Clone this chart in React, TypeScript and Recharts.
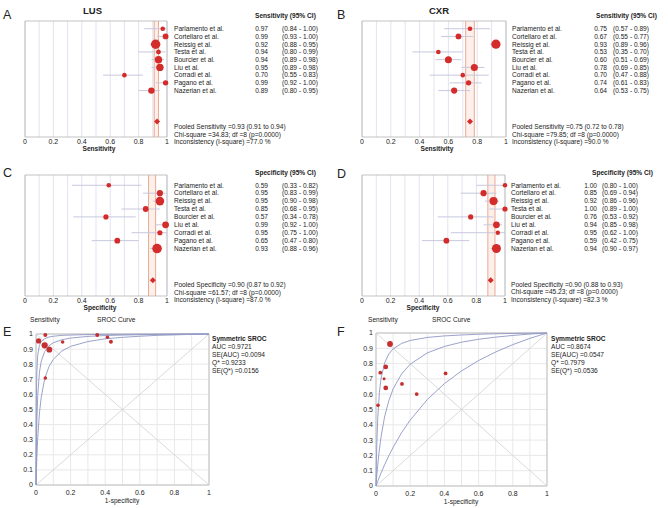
import React from "react";
import {
  ScatterChart,
  Scatter,
  XAxis,
  YAxis,
  CartesianGrid,
  ReferenceArea,
  ReferenceLine,
  ErrorBar,
} from "recharts";

const studies = [
  "Parlamento et al.",
  "Cortellaro et al.",
  "Reissig et al.",
  "Testa et al.",
  "Bourcier et al.",
  "Liu et al.",
  "Corradi et al.",
  "Pagano et al.",
  "Nazerian et al.",
];

// A: LUS sensitivity
const lusSens = [0.97, 0.99, 0.92, 0.94, 0.94, 0.95, 0.7, 0.99, 0.89];
const lusSensLo = [0.84, 0.93, 0.88, 0.8, 0.89, 0.89, 0.55, 0.92, 0.8];
const lusSensHi = [1.0, 1.0, 0.95, 0.99, 0.98, 0.98, 0.83, 1.0, 0.95];
const lusSensW = [2.3, 2.9, 4.7, 2.4, 3.7, 3.7, 2.3, 2.7, 3.2];
const lusSensPooled = [0.93, 0.91, 0.94];

// B: CXR sensitivity
const cxrSens = [0.75, 0.67, 0.93, 0.53, 0.6, 0.78, 0.7, 0.74, 0.64];
const cxrSensLo = [0.57, 0.55, 0.89, 0.35, 0.51, 0.69, 0.47, 0.61, 0.53];
const cxrSensHi = [0.89, 0.77, 0.96, 0.7, 0.69, 0.85, 0.88, 0.83, 0.75];
const cxrSensW = [2.3, 2.9, 4.6, 2.3, 3.5, 3.5, 2.3, 2.7, 3.1];
const cxrSensPooled = [0.75, 0.72, 0.78];

// C: LUS specificity
const lusSpec = [0.59, 0.95, 0.95, 0.85, 0.57, 0.99, 0.95, 0.65, 0.93];
const lusSpecLo = [0.33, 0.83, 0.9, 0.68, 0.34, 0.92, 0.75, 0.47, 0.88];
const lusSpecHi = [0.82, 0.99, 0.98, 0.95, 0.78, 1.0, 1.0, 0.8, 0.96];
const lusSpecW = [2.3, 3.1, 4.3, 2.9, 2.6, 3.4, 2.6, 2.9, 4.8];
const lusSpecPooled = [0.9, 0.87, 0.92];

// D: CXR specificity
const cxrSpec = [1.0, 0.85, 0.92, 1.0, 0.76, 0.94, 0.95, 0.59, 0.94];
const cxrSpecLo = [0.8, 0.69, 0.86, 0.89, 0.53, 0.85, 0.62, 0.42, 0.9];
const cxrSpecHi = [1.0, 0.94, 0.96, 1.0, 0.92, 0.98, 1.0, 0.75, 0.97];
const cxrSpecW = [2.3, 3.1, 4.1, 2.6, 2.6, 3.4, 2.2, 2.9, 4.5];
const cxrSpecPooled = [0.9, 0.88, 0.93];

// E / F: SROC study points (1-specificity, sensitivity) and weights
const lusFpr = [0.413, 0.054, 0.05, 0.154, 0.433, 0.015, 0.054, 0.354, 0.077];
const lusTpr = [0.978, 0.993, 0.925, 0.947, 0.949, 0.954, 0.709, 0.993, 0.896];
const lusPtW = [1.8, 2.0, 3.1, 1.8, 2.0, 2.6, 1.8, 2.0, 2.9];
const cxrFpr = [0.025, 0.152, 0.082, 0.012, 0.238, 0.057, 0.047, 0.407, 0.057];
const cxrTpr = [0.741, 0.667, 0.928, 0.527, 0.601, 0.778, 0.701, 0.736, 0.641];
const cxrPtW = [1.9, 1.9, 2.9, 1.8, 1.9, 2.4, 1.5, 1.9, 2.4];

// SROC curves
const curveFpr = [0, 0.001, 0.002, 0.003, 0.005, 0.01, 0.02, 0.03, 0.05, 0.075, 0.1, 0.15, 0.2, 0.3, 0.4, 0.5, 0.6, 0.7, 0.8, 0.9, 1];
const lusCurveMid = [0, 0.127, 0.225, 0.304, 0.422, 0.594, 0.747, 0.818, 0.884, 0.922, 0.942, 0.962, 0.973, 0.984, 0.99, 0.993, 0.995, 0.997, 0.998, 0.999, 1];
const lusCurveLow = [0, 0.043, 0.082, 0.119, 0.184, 0.311, 0.477, 0.58, 0.702, 0.784, 0.832, 0.888, 0.918, 0.95, 0.968, 0.978, 0.985, 0.991, 0.994, 0.998, 1];
const lusCurveHigh = [0, 0.376, 0.547, 0.644, 0.752, 0.859, 0.925, 0.949, 0.969, 0.98, 0.985, 0.991, 0.993, 0.996, 0.998, 0.998, 0.999, 0.999, 1, 1, 1];
const cxrCurveMid = [0, 0.015, 0.03, 0.045, 0.073, 0.136, 0.241, 0.325, 0.451, 0.558, 0.634, 0.733, 0.796, 0.87, 0.912, 0.94, 0.959, 0.973, 0.984, 0.993, 1];
const cxrCurveHigh = [0, 0.072, 0.135, 0.189, 0.28, 0.439, 0.613, 0.706, 0.803, 0.863, 0.896, 0.932, 0.951, 0.971, 0.981, 0.987, 0.992, 0.995, 0.997, 0.999, 1];
const cxrCurveLow = [0, 0.003, 0.006, 0.009, 0.015, 0.03, 0.058, 0.086, 0.138, 0.198, 0.252, 0.349, 0.431, 0.565, 0.669, 0.752, 0.82, 0.876, 0.924, 0.965, 1];

const xTicks = [0, 0.1, 0.2, 0.3, 0.4, 0.5, 0.6, 0.7, 0.8, 0.9, 1];
const rowTicks = [1, 2, 3, 4, 5, 6, 7, 8, 9];

const FONT = "'Liberation Sans', Arial, Helvetica, sans-serif";
const INK = "#222";
const DOT = "#d42b2b";

const evenOnly = (v: number) => {
  const k = Math.round(v * 10);
  if (k % 2) return "";
  return k === 0 ? "0" : k === 10 ? "1" : String(v);
};
const allTicks = (v: number) => (v === 0 ? "0" : v === 1 ? "1" : String(v));

type ForestProps = {
  left: number;
  top: number;
  plotL: number;
  plotR: number;
  plotT: number;
  plotB: number;
  domain: [number, number];
  est: number[];
  lo: number[];
  hi: number[];
  w: number[];
  pooled: number[];
  cols: number[];
};

function Forest(p: ForestProps) {
  const W = 334;
  const H = 160;
  const rows = p.est.map((v, i) => ({
    x: v,
    y: i + 1,
    err: [v - p.lo[i], p.hi[i] - v],
    r: p.w[i],
  }));
  const pool = [{ x: p.pooled[0], y: 13 }];

  const tick = (t: any) => {
    const i = t.payload.value - 1;
    return (
      <g fontSize={6.6} fill={INK}>
        <text x={p.cols[0]} y={t.y} dy={2.3}>
          {studies[i]}
        </text>
        <text x={p.cols[1]} y={t.y} dy={2.3} textAnchor="end">
          {p.est[i].toFixed(2)}
        </text>
        <text x={p.cols[2]} y={t.y} dy={2.3}>
          ({p.lo[i].toFixed(2)} - {p.hi[i].toFixed(2)})
        </text>
      </g>
    );
  };

  return (
    <div style={{ position: "absolute", left: p.left, top: p.top }}>
      <ScatterChart
        width={W}
        height={H}
        margin={{ top: p.plotT, left: p.plotL, right: 0, bottom: 0 }}
      >
        <CartesianGrid horizontal={false} stroke="#e3e4ee" />
        <XAxis
          type="number"
          dataKey="x"
          domain={[0, 1]}
          ticks={xTicks}
          interval={0}
          tickFormatter={evenOnly}
          axisLine={false}
          tickLine={false}
          tickSize={0}
          tickMargin={1.8}
          height={H - p.plotB}
          tick={{ fontSize: 7, fill: INK }}
        />
        <YAxis
          type="number"
          dataKey="y"
          orientation="right"
          domain={p.domain}
          reversed
          allowDataOverflow
          ticks={rowTicks}
          interval={0}
          width={W - p.plotR}
          axisLine={false}
          tickLine={false}
          tick={tick}
        />
        <ReferenceArea x1={p.pooled[1]} x2={p.pooled[2]} y1={p.domain[0]} y2={p.domain[1]} fill="#fdf0ea" fillOpacity={1} stroke="none" />
        <ReferenceLine x={p.pooled[1]} stroke="#e6957c" strokeWidth={0.8} />
        <ReferenceLine x={p.pooled[2]} stroke="#e6957c" strokeWidth={0.8} />
        <ReferenceArea x1={0} x2={1} y1={p.domain[0]} y2={p.domain[1]} fill="none" stroke="#b4b4b4" strokeWidth={0.8} />
        <Scatter
          data={rows}
          isAnimationActive={false}
          shape={(s: any) => <circle cx={s.cx} cy={s.cy} r={s.payload.r} fill={DOT} />}
        >
          <ErrorBar dataKey="err" direction="x" width={0} stroke="#c6c8de" strokeWidth={1} />
        </Scatter>
        <Scatter
          data={pool}
          isAnimationActive={false}
          shape={(s: any) => (
            <polygon
              points={`${s.cx - 3},${s.cy} ${s.cx},${s.cy - 3} ${s.cx + 3},${s.cy} ${s.cx},${s.cy + 3}`}
              fill={DOT}
            />
          )}
        />
      </ScatterChart>
    </div>
  );
}

type SrocProps = {
  left: number;
  plotL: number;
  plotR: number;
  plotT: number;
  plotB: number;
  fpr: number[];
  tpr: number[];
  w: number[];
  curves: number[][];
};

function Sroc(p: SrocProps) {
  const W = 334;
  const H = 188;
  const pts = p.fpr.map((f, i) => ({ x: f, y: p.tpr[i], r: p.w[i] }));
  return (
    <div style={{ position: "absolute", left: p.left, top: 320 }}>
      <ScatterChart
        width={W}
        height={H}
        margin={{ top: p.plotT, left: 0, right: W - p.plotR, bottom: 0 }}
      >
        <CartesianGrid stroke="#e8e8e8" />
        <XAxis
          type="number"
          dataKey="x"
          domain={[0, 1]}
          ticks={xTicks}
          interval={0}
          tickFormatter={evenOnly}
          axisLine={false}
          tickLine={false}
          tickSize={0}
          tickMargin={5}
          height={H - p.plotB}
          tick={{ fontSize: 7, fill: INK }}
        />
        <YAxis
          type="number"
          dataKey="y"
          domain={[0, 1]}
          ticks={xTicks}
          interval={0}
          tickFormatter={allTicks}
          axisLine={false}
          tickLine={false}
          tickSize={0}
          tickMargin={3}
          width={p.plotL}
          tick={{ fontSize: 7, fill: INK }}
        />
        <ReferenceLine segment={[{ x: 0, y: 0 }, { x: 1, y: 1 }]} stroke="#d0d0d0" strokeWidth={0.8} />
        <ReferenceLine segment={[{ x: 0, y: 1 }, { x: 1, y: 0 }]} stroke="#d0d0d0" strokeWidth={0.8} />
        <ReferenceArea x1={0} x2={1} y1={0} y2={1} fill="none" stroke="#b4b4b4" strokeWidth={0.8} />
        {p.curves.map((c, k) => (
          <Scatter
            key={k}
            data={curveFpr.map((f, i) => ({ x: f, y: c[i] }))}
            isAnimationActive={false}
            line={{ stroke: "#9097c4", strokeWidth: 0.9 }}
            lineType="joint"
            shape={() => <g />}
          />
        ))}
        <Scatter
          data={pts}
          isAnimationActive={false}
          shape={(s: any) => <circle cx={s.cx} cy={s.cy} r={s.payload.r} fill="#c42f2f" />}
        />
      </ScatterChart>
    </div>
  );
}

type T = { x: number; y: number; s: string; size?: number; bold?: boolean; anchor?: "start" | "middle" | "end" };

function pooledLines(x: number, y: number, what: string, pooled: number[], chi: string, isq: string): T[] {
  return [
    { x, y, s: `Pooled ${what} =${pooled[0].toFixed(2)} (${pooled[1].toFixed(2)} to ${pooled[2].toFixed(2)})` },
    { x, y: y + 7.5, s: `Chi-square =${chi}; df =8 (p=0.0000)` },
    { x, y: y + 15, s: `Inconsistency (I-square) =${isq} %` },
  ];
}

function srocLines(x: number, auc: string, seAuc: string, q: string, seQ: string): T[] {
  return [
    { x, y: 340.5, s: "Symmetric SROC", bold: true },
    { x, y: 348.5, s: `AUC =${auc}` },
    { x, y: 356.5, s: `SE(AUC) =${seAuc}` },
    { x, y: 364.5, s: `Q* =${q}` },
    { x, y: 372.5, s: `SE(Q*) =${seQ}` },
  ];
}

const labels: T[] = [
  { x: 3, y: 18.5, s: "A", size: 12.5 },
  { x: 83, y: 14, s: "LUS", size: 9.5, bold: true },
  { x: 255, y: 18, s: "Sensitivity (95% CI)", bold: true },
  ...pooledLines(174, 129.2, "Sensitivity", lusSensPooled, "34.83", "77.0"),
  { x: 99, y: 151, s: "Sensitivity", bold: true, anchor: "middle" },

  { x: 337, y: 18.5, s: "B", size: 12.5 },
  { x: 429, y: 14, s: "CXR", size: 9.5, bold: true },
  { x: 596, y: 18, s: "Sensitivity (95% CI)", bold: true },
  ...pooledLines(512, 129.2, "Sensitivity", cxrSensPooled, "79.85", "90.0"),
  { x: 437, y: 151, s: "Sensitivity", bold: true, anchor: "middle" },

  { x: 3, y: 177, s: "C", size: 12.5 },
  { x: 255, y: 174.5, s: "Specificity (95% CI)", bold: true },
  ...pooledLines(174, 287, "Specificity", lusSpecPooled, "61.57", "87.0"),
  { x: 100, y: 310, s: "Specificity", bold: true, anchor: "middle" },

  { x: 337, y: 178, s: "D", size: 12.5 },
  { x: 592, y: 174.5, s: "Specificity (95% CI)", bold: true },
  ...pooledLines(511, 286.5, "Specificity", cxrSpecPooled, "45.23", "82.3"),
  { x: 423, y: 310, s: "Specificity", bold: true, anchor: "middle" },

  { x: 3, y: 336, s: "E", size: 12.5 },
  { x: 30, y: 322, s: "Sensitivity" },
  { x: 97, y: 322, s: "SROC Curve" },
  ...srocLines(212, "0.9721", "0.0094", "0.9233", "0.0156"),
  { x: 122, y: 503, s: "1-specificity", anchor: "middle" },

  { x: 337, y: 336, s: "F", size: 12.5 },
  { x: 368, y: 322, s: "Sensitivity" },
  { x: 432, y: 322, s: "SROC Curve" },
  ...srocLines(551, "0.8674", "0.0547", "0.7979", "0.0536"),
  { x: 461, y: 503.5, s: "1-specificity", anchor: "middle" },
];

export default function App() {
  return (
    <div
      style={{
        position: "absolute",
        left: 0,
        top: 0,
        width: 668,
        height: 508,
        background: "#fff",
        fontFamily: FONT,
        overflow: "hidden",
      }}
    >
      <Forest left={0} top={0} plotL={25} plotR={167} plotT={21} plotB={137} domain={[0, 15]}
        est={lusSens} lo={lusSensLo} hi={lusSensHi} w={lusSensW} pooled={lusSensPooled} cols={[174, 268, 282]} />
      <Forest left={334} top={0} plotL={28} plotR={172} plotT={21} plotB={137} domain={[0, 15]}
        est={cxrSens} lo={cxrSensLo} hi={cxrSensHi} w={cxrSensW} pooled={cxrSensPooled} cols={[178, 273, 279]} />
      <Forest left={0} top={160} plotL={25} plotR={167} plotT={15} plotB={136} domain={[-0.3, 15]}
        est={lusSpec} lo={lusSpecLo} hi={lusSpecHi} w={lusSpecW} pooled={lusSpecPooled} cols={[174, 268, 282]} />
      <Forest left={334} top={160} plotL={28} plotR={171} plotT={15} plotB={136} domain={[-0.3, 15]}
        est={cxrSpec} lo={cxrSpecLo} hi={cxrSpecHi} w={cxrSpecW} pooled={cxrSpecPooled} cols={[177, 263, 268]} />
      <Sroc left={0} plotL={36} plotR={209} plotT={14} plotB={165}
        fpr={lusFpr} tpr={lusTpr} w={lusPtW} curves={[lusCurveHigh, lusCurveMid, lusCurveLow]} />
      <Sroc left={334} plotL={42} plotR={213} plotT={13} plotB={166}
        fpr={cxrFpr} tpr={cxrTpr} w={cxrPtW} curves={[cxrCurveHigh, cxrCurveMid, cxrCurveLow]} />
      <svg width={668} height={508} style={{ position: "absolute", left: 0, top: 0, pointerEvents: "none" }}>
        {labels.map((t, i) => (
          <text
            key={i}
            x={t.x}
            y={t.y}
            fontSize={t.size ?? 6.6}
            fontWeight={t.bold ? "bold" : "normal"}
            textAnchor={t.anchor ?? "start"}
            fill={INK}
          >
            {t.s}
          </text>
        ))}
      </svg>
    </div>
  );
}
